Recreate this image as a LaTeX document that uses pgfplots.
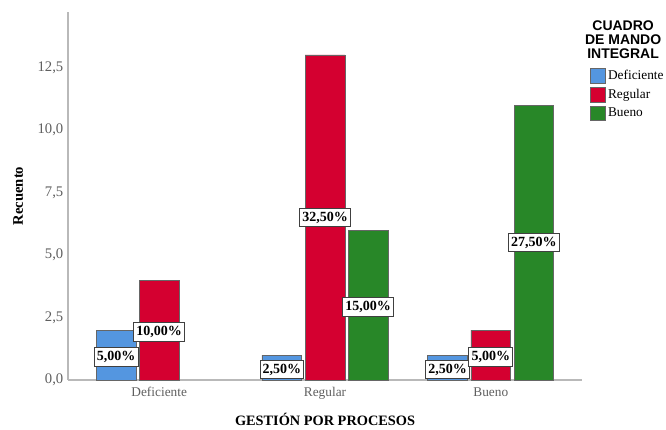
\documentclass[border=0pt]{standalone}
\usepackage{fontspec}
\setmainfont{Liberation Serif}
\newfontfamily\arialfont{Liberation Sans}
\usepackage{pgfplots}
\pgfplotsset{compat=1.18}
\definecolor{cblue}{RGB}{84,150,224}
\definecolor{cred}{RGB}{212,0,48}
\definecolor{cgreen}{RGB}{40,135,40}
\definecolor{axgray}{RGB}{185,185,185}
\definecolor{tickgray}{RGB}{95,95,95}
\begin{document}
\begin{tikzpicture}
\useasboundingbox (-51pt,-36.75pt) rectangle (448.5pt,285pt);
\begin{axis}[
  at={(0,0)}, anchor=south west,
  scale only axis, width=385.5pt, height=276pt,
  xmin=-0.55, xmax=2.55, ymin=0, ymax=14.72,
  clip=false,
  axis x line*=bottom, axis y line*=left,
  axis line style={draw=axgray, line width=1.5pt, -},
  xtick={0,1,2}, xticklabels={Deficiente,Regular,Bueno},
  ytick={0,2.5,5,7.5,10,12.5},
  major tick length=0pt,
  /pgf/number format/assume math mode=true,
  yticklabel style={font=\fontsize{11}{12}\selectfont, text=tickgray, /pgf/number format/.cd, fixed, fixed zerofill, precision=1, use comma},
  xticklabel style={font=\fontsize{10}{12}\selectfont, text=tickgray, yshift=-2pt},
  ylabel={Recuento},
  ylabel style={at={(axis description cs:-0.097,0.5)}, anchor=center, font=\bfseries\fontsize{11}{12}\selectfont},
  xlabel={GESTIÓN POR PROCESOS},
  xlabel style={at={(axis description cs:0.5,-0.108)}, anchor=center, inner sep=0pt, font=\bfseries\fontsize{10.75}{12}\selectfont},
  legend image code/.code={\draw[#1] (0pt,-5.6pt) rectangle (11.25pt,5.6pt);},
  legend style={at={(axis description cs:1.0156,0.848)}, anchor=north west, draw=none, fill=none,
    inner sep=0pt, row sep=2.2pt, font=\fontsize{10}{11}\selectfont,
    nodes={inner ysep=0pt, inner xsep=1.5pt}},
  legend cell align=left,
]
\addplot[ybar, bar width=0.24, bar shift=-0.26, fill=cblue, draw=black!60, line width=0.6pt] coordinates {(0,2) (1,1) (2,1)};
\addplot[ybar, bar width=0.24, bar shift=0, fill=cred, draw=black!60, line width=0.6pt] coordinates {(0,4) (1,13) (2,2)};
\addplot[ybar, bar width=0.24, bar shift=0.26, fill=cgreen, draw=black!60, line width=0.6pt] coordinates {(1,6) (2,11)};
\legend{Deficiente,Regular,Bueno}
\addplot[draw=none, forget plot, point meta=explicit,
  nodes near coords={\pgfmathprintnumber[fixed, fixed zerofill, precision=2, use comma]{\pgfplotspointmeta}\%},
  nodes near coords style={anchor=center, fill=white, draw=black!75, line width=0.6pt, text=black,
    font=\bfseries\fontsize{10.5}{10.5}\selectfont, inner xsep=2pt, inner ysep=2.7pt}]
  table[meta=p] {
x y p
-0.26 0.93 5
0 1.93 10
0.74 0.42 2.5
1 6.5 32.5
1.26 2.93 15
1.74 0.42 2.5
2 0.93 5
2.26 5.5 27.5
};
\node[align=center, font=\arialfont\bfseries\fontsize{10.5}{10.5}\selectfont, inner sep=0pt]
  at (axis description cs:1.08,0.924) {CUADRO\\DE MANDO\\INTEGRAL};
\end{axis}
\end{tikzpicture}
\end{document}
